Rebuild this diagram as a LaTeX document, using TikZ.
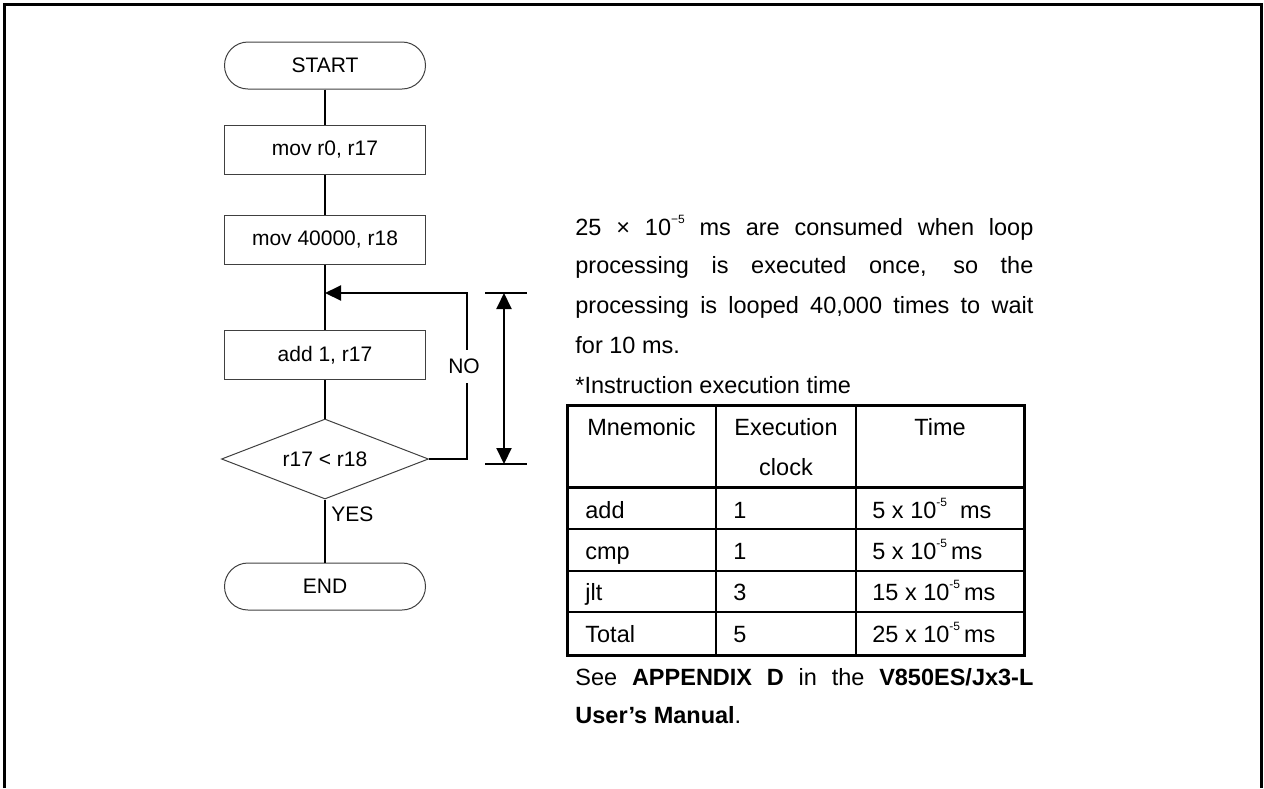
\documentclass[tikz,border=0pt]{standalone}
\usepackage{fontspec}
\setmainfont{Liberation Sans}
\usetikzlibrary{arrows.meta,shapes.geometric}
\tikzset{flowtip/.tip={Triangle[length=8pt,width=7.5pt]}}
% small raised exponent
\newcommand\expsup[1]{\raisebox{0.5em}{\fontsize{6}{6}\selectfont #1}}
\begin{document}
\begin{tikzpicture}[x=0.5pt,y=-0.5pt,
  font=\fontsize{10.5}{12.6}\selectfont,
  flow/.style={line width=1pt},
  procbox/.style={draw=black!75,line width=0.5pt,minimum width=100.5pt,minimum height=24.5pt,inner sep=0pt},
  term/.style={draw=black!75,line width=0.5pt,rounded corners=11.75pt,minimum width=100.5pt,minimum height=23.5pt,inner sep=0pt},
  decision/.style={draw=black!75,line width=0.5pt,diamond,aspect=2.6,minimum width=103.5pt,minimum height=40pt,inner sep=0pt},
  txt/.style={inner sep=0pt,anchor=base west,font=\fontsize{11.75}{14}\selectfont},
  ctxt/.style={inner sep=0pt,anchor=base,font=\fontsize{11.75}{14}\selectfont},
  outer/.style={line width=1.5pt},
  inner/.style={line width=1.25pt}]
\useasboundingbox (0,0) rectangle (1264,788);

% open frame
\draw[line width=1.5pt] (4.7,788) -- (4.7,4) -- (1261.5,4) -- (1261.5,788);

% flowchart
\node[term] (start) at (325,65.5) {START};
\node[procbox] (movA) at (325,149.5) {mov r0, r17};
\node[procbox] (movB) at (325,239.5) {mov 40000, r18};
\coordinate (join) at (325,293);
\node[procbox] (addA) at (325,355) {add 1, r17};
\node[decision] (cmp) at (325,459) {r17 < r18};
\node[term] (finish) at (325,586.5) {END};

\draw[flow] (start) -- (movA);
\draw[flow] (movA) -- (movB);
\draw[flow] (movB) -- (addA);
\draw[flow] (addA) -- (cmp);
\draw[flow] (cmp) -- (finish);

% loop back on NO
\coordinate (loopTop) at (467,293);
\draw[flow,-{flowtip}] (cmp.east) -| (loopTop) -- (join);
\node[fill=white,inner xsep=1pt,minimum height=16.5pt] (no) at (464,366) {NO};
\node[inner sep=0pt,anchor=base west] (yes) at (331,521) {YES};

% loop length dimension
\coordinate (dimTop) at (504,293);
\coordinate (dimBot) at (504,464);
\draw[flow] (485,293) -- (527,293);
\draw[flow] (485,464) -- (527,464);
\draw[flow,{flowtip}-{flowtip}] (dimTop) -- (dimBot);

% explanation
\node[txt] (p1) at (575,235) {\makebox[229pt][s]{25 × 10\expsup{−5} ms are consumed when loop}};
\node[txt] (p2) at (575,273) {\makebox[229pt][s]{processing is executed once, so the}};
\node[txt] (p3) at (575,313) {\makebox[229pt][s]{processing is looped 40,000 times to wait}};
\node[txt] (p4) at (575,353) {for 10 ms.};
\node[txt] (p5) at (575,393) {*Instruction execution time};

% instruction table
\draw[outer] (567,405) rectangle (1024,655);
\draw[outer] (567,487) -- (1024,487);
\draw[inner] (567,529) -- (1024,529);
\draw[inner] (567,571) -- (1024,571);
\draw[inner] (567,612) -- (1024,612);
\draw[inner] (716,405) -- (716,655);
\draw[inner] (856,405) -- (856,655);

\node[ctxt] (h1) at (641.5,435) {Mnemonic};
\node[ctxt] (h2) at (786,435) {Execution};
\node[ctxt] (h2b) at (786,475) {clock};
\node[ctxt] (h3) at (940,435) {Time};

\node[txt] (r1a) at (585,518) {add};
\node[txt] (r1b) at (733,518) {1};
\node[txt] (r1c) at (872,518) {5 x 10\expsup{-5}\ \ ms};
\node[txt] (r2a) at (585,559) {cmp};
\node[txt] (r2b) at (733,559) {1};
\node[txt] (r2c) at (872,559) {5 x 10\expsup{-5}\,ms};
\node[txt] (r3a) at (585,600) {jlt};
\node[txt] (r3b) at (733,600) {3};
\node[txt] (r3c) at (872,600) {15 x 10\expsup{-5}\,ms};
\node[txt] (r4a) at (585,642) {Total};
\node[txt] (r4b) at (733,642) {5};
\node[txt] (r4c) at (872,642) {25 x 10\expsup{-5}\,ms};

\node[txt] (s1) at (575,685) {\makebox[229pt][s]{See \textbf{APPENDIX D} in the \textbf{V850ES/Jx3-L}}};
\node[txt] (s2) at (575,723) {\textbf{User’s Manual}.};
\end{tikzpicture}
\end{document}
